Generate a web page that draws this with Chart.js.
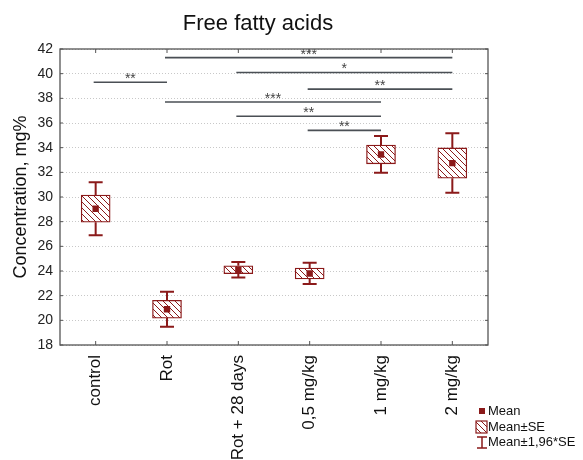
<!DOCTYPE html>
<html>
<head>
<meta charset="utf-8">
<script src="https://cdn.jsdelivr.net/npm/chart.js@4/dist/chart.umd.min.js"></script>
<style>
  html, body { margin: 0; padding: 0; background: #fff; }
  #wrap { width: 583px; height: 460px; }
</style>
</head>
<body>
<div id="wrap"><canvas id="chart" width="583" height="460"></canvas></div>
<script>
// groups and measured values
const categories = ["control", "Rot", "Rot + 28 days", "0,5 mg/kg", "1 mg/kg", "2 mg/kg"];
const means = [29.05, 20.9, 24.1, 23.8, 33.45, 32.75];
const stdErr = [1.1, 0.72, 0.32, 0.44, 0.76, 1.23];
const yTicks = [18, 20, 22, 24, 26, 28, 30, 32, 34, 36, 38, 40, 42];

// significance brackets: from group, to group, height (mg%), label
const sigFrom = [1, 2, 0, 3, 1, 2, 3];
const sigTo = [5, 5, 1, 5, 4, 4, 4];
const sigLevel = [41.3, 40.1, 39.3, 38.75, 37.7, 36.55, 35.4];
const sigText = ["***", "*", "**", "**", "***", "**", "**"];

const RED = "#8b1a1a";
const FONT = "'Liberation Sans', Arial, sans-serif";

// hatch fill for the SE boxes
function makeHatch() {
    const c = document.createElement("canvas");
    c.width = 6;
    c.height = 6;
    const g = c.getContext("2d");
    g.fillStyle = "#fff";
    g.fillRect(0, 0, 6, 6);
    g.strokeStyle = RED;
    g.lineWidth = 1;
    g.beginPath();
    g.moveTo(-1, -1); g.lineTo(7, 7);
    g.moveTo(-1, 5); g.lineTo(1, 7);
    g.moveTo(5, -1); g.lineTo(7, 1);
    g.stroke();
    return g.createPattern(c, "repeat");
}
const hatch = makeHatch();

const seBoxes = means.map((m, i) => [m - stdErr[i], m + stdErr[i]]);

const extras = {
    id: "extras",
    afterDatasetsDraw(chart) {
        const { ctx, chartArea: a, scales: { x, y } } = chart;
        ctx.save();

        // whiskers at mean +- 1.96*SE
        ctx.strokeStyle = RED;
        ctx.lineWidth = 2;
        means.forEach((m, i) => {
            const px = x.getPixelForValue(i);
            const hi = y.getPixelForValue(m + 1.96 * stdErr[i]);
            const lo = y.getPixelForValue(m - 1.96 * stdErr[i]);
            const bt = y.getPixelForValue(m + stdErr[i]);
            const bb = y.getPixelForValue(m - stdErr[i]);
            ctx.beginPath();
            ctx.moveTo(px, bt); ctx.lineTo(px, hi);
            ctx.moveTo(px - 7, hi); ctx.lineTo(px + 7, hi);
            ctx.moveTo(px, bb); ctx.lineTo(px, lo);
            ctx.moveTo(px - 7, lo); ctx.lineTo(px + 7, lo);
            ctx.stroke();
        });

        // significance lines
        ctx.strokeStyle = "#4a4f55";
        ctx.lineWidth = 1.6;
        ctx.fillStyle = "#444";
        ctx.font = "14px " + FONT;
        ctx.textAlign = "center";
        ctx.textBaseline = "alphabetic";
        sigLevel.forEach((lv, k) => {
            const x1 = x.getPixelForValue(sigFrom[k]) - 2;
            const x2 = x.getPixelForValue(sigTo[k]);
            const py = y.getPixelForValue(lv);
            ctx.beginPath();
            ctx.moveTo(x1, py); ctx.lineTo(x2, py);
            ctx.stroke();
            ctx.fillText(sigText[k], (x1 + x2) / 2, py + 1);
        });

        // frame and inner ticks
        ctx.strokeStyle = "#555";
        ctx.lineWidth = 1.3;
        ctx.strokeRect(a.left, a.top, a.right - a.left, a.bottom - a.top);
        ctx.lineWidth = 1;
        ctx.beginPath();
        categories.forEach((c, i) => {
            const px = x.getPixelForValue(i);
            ctx.moveTo(px, a.bottom); ctx.lineTo(px, a.bottom - 4);
            ctx.moveTo(px, a.top); ctx.lineTo(px, a.top + 4);
        });
        yTicks.forEach(v => {
            const py = y.getPixelForValue(v);
            ctx.moveTo(a.left, py); ctx.lineTo(a.left + 3, py);
            ctx.moveTo(a.right, py); ctx.lineTo(a.right - 3, py);
        });
        ctx.stroke();

        // title
        ctx.fillStyle = "#111";
        ctx.font = "22px " + FONT;
        ctx.textAlign = "center";
        ctx.textBaseline = "middle";
        ctx.fillText("Free fatty acids", 258, 24);

        // legend
        const lx = 476, ly = 411;
        ctx.font = "13px " + FONT;
        ctx.textAlign = "left";
        ctx.fillStyle = RED;
        ctx.fillRect(lx + 3, ly - 3, 6, 6);
        ctx.fillStyle = hatch;
        ctx.fillRect(lx, ly + 10, 11, 12);
        ctx.strokeStyle = RED;
        ctx.lineWidth = 1.2;
        ctx.strokeRect(lx, ly + 10, 11, 12);
        ctx.lineWidth = 1.5;
        ctx.beginPath();
        ctx.moveTo(lx + 1, ly + 26); ctx.lineTo(lx + 11, ly + 26);
        ctx.moveTo(lx + 6, ly + 26); ctx.lineTo(lx + 6, ly + 37);
        ctx.moveTo(lx + 1, ly + 37); ctx.lineTo(lx + 11, ly + 37);
        ctx.stroke();
        ctx.fillStyle = "#111";
        ctx.fillText("Mean", lx + 12, ly);
        ctx.fillText("Mean\u00b1SE", lx + 12, ly + 16);
        ctx.fillText("Mean\u00b11,96*SE", lx + 12, ly + 31);

        ctx.restore();
    }
};

new Chart(document.getElementById("chart"), {
    type: "bar",
    data: {
        labels: categories,
        datasets: [
            {
                type: "line",
                data: means,
                showLine: false,
                pointStyle: "rect",
                pointRadius: 4.5,
                pointBackgroundColor: RED,
                pointBorderWidth: 0,
                order: 0
            },
            {
                data: seBoxes,
                backgroundColor: hatch,
                borderColor: RED,
                borderWidth: 1.3,
                borderSkipped: false,
                barThickness: 29,
                order: 1
            }
        ]
    },
    options: {
        responsive: false,
        animation: false,
        devicePixelRatio: 1,
        layout: { padding: { top: 49, right: 95, left: 0, bottom: 0 } },
        plugins: {
            legend: { display: false },
            tooltip: { enabled: false }
        },
        scales: {
            x: {
                offset: true,
                grid: { display: false },
                border: { display: false },
                ticks: {
                    minRotation: 90,
                    maxRotation: 90,
                    padding: 2,
                    color: "#111",
                    font: { family: FONT, size: 17 }
                },
                afterFit: s => { s.height = 115; }
            },
            y: {
                min: 18,
                max: 42,
                grid: { color: "#c8c8c8", drawTicks: false, lineWidth: 1 },
                border: { display: false, dash: [1, 2] },
                ticks: {
                    stepSize: 2,
                    padding: 7,
                    color: "#222",
                    font: { family: FONT, size: 14 }
                },
                title: {
                    display: true,
                    text: "Concentration, mg%",
                    color: "#111",
                    font: { family: FONT, size: 18 },
                    padding: { top: 10, bottom: 0 }
                },
                afterFit: s => { s.width = 60; }
            }
        }
    },
    plugins: [extras]
});
</script>
</body>
</html>
